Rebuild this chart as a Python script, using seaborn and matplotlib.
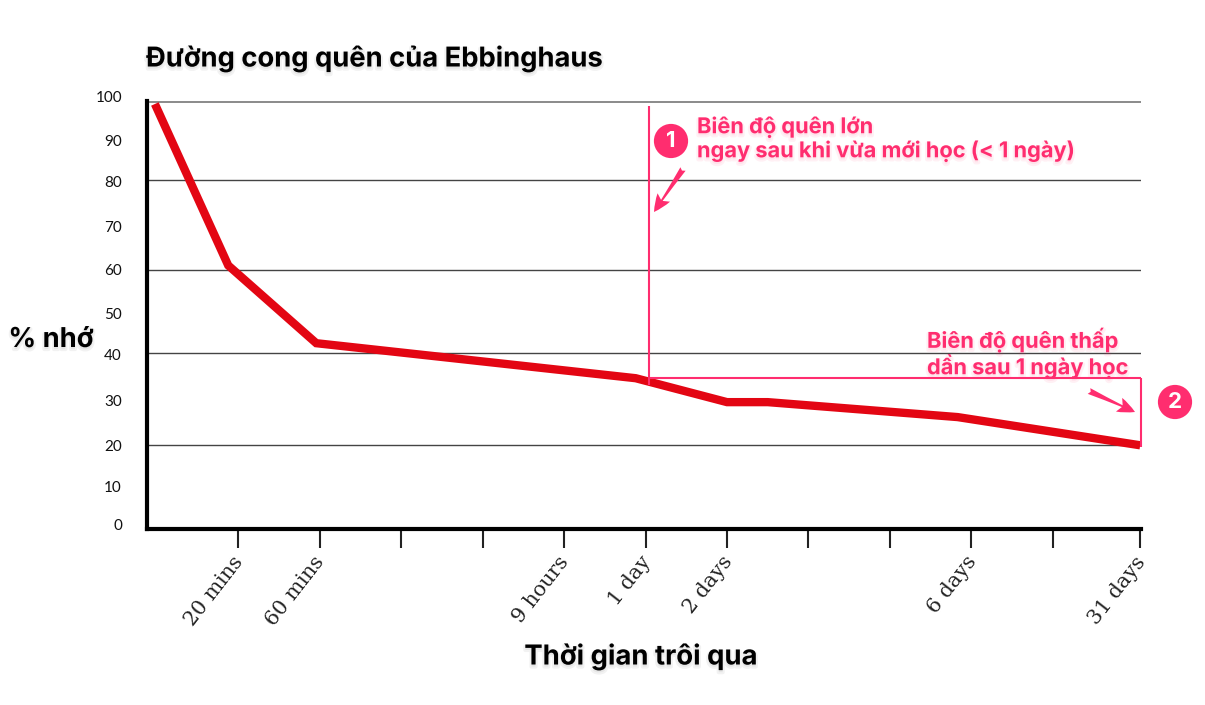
import pandas as pd
import matplotlib
matplotlib.use('Agg')
import matplotlib.pyplot as plt
import matplotlib.patheffects as pe
from matplotlib.transforms import Affine2D
import seaborn as sns

# du lieu doc tu hinh
curve_x = [-0.02, 0.88, 1.96, 5.88, 7.0, 7.5, 9.83, 12.07]
curve_y = [99.5, 61.7, 43.5, 35.3, 29.7, 29.7, 26.2, 19.6]
grid_levels = [81.6, 60.7, 41.2, 19.7]
y_ticks = [0, 9.1, 18.7, 29.2, 40, 49.5, 59.8, 69.9, 80.4, 90, 100.2]
y_labels = ['0', '10', '20', '30', '40', '50', '60', '70', '80', '90', '100']
x_ticks = [1, 2, 3, 4, 5, 6, 7, 8, 9, 10, 11, 12.07]
x_labels = ['20 mins', '60 mins', '', '', '9 hours', '1 day', '2 days', '', '', '6 days', '', '31 days']
split_x = 6.04
split_y = 35.3

RED = '#E30613'
PINK = '#FF2D6F'
W, H = 1205, 705


def at(px, py):
    # toa do pixel cua hinh -> toa do figure
    return px / W, 1 - py / H


sns.set_theme(style='white')
plt.rcParams['font.family'] = ['Inter', 'DejaVu Sans']

df = pd.DataFrame({'x': curve_x, 'y': curve_y})

fig = plt.figure(figsize=(W / 100, H / 100), dpi=100)
ax = fig.add_axes([147 / W, 1 - 529 / H, (1141 - 147) / W, (529 - 101) / H])

ax.hlines(grid_levels, -0.117, 12.08, colors='#444444', linewidth=1.0, zorder=1)
ax.hlines(100, -0.117, 12.08, colors='#777777', linewidth=1.2, zorder=1)

sns.lineplot(data=df, x='x', y='y', ax=ax, color=RED, linewidth=6.0, sort=False,
             solid_joinstyle='miter', solid_capstyle='butt', zorder=3, clip_on=False)

ax.set_xlim(-0.117, 12.08)
ax.set_ylim(0, 100)
ax.set_xlabel('')
ax.set_ylabel('')

for side in ['top', 'right']:
    ax.spines[side].set_visible(False)
ax.spines['left'].set_linewidth(3)
ax.spines['left'].set_color('black')
ax.spines['bottom'].set_linewidth(3)
ax.spines['bottom'].set_color('black')

ax.set_yticks(y_ticks)
ax.set_yticklabels(y_labels, fontsize=11, family=['Lato', 'DejaVu Sans'], color='#111111')
ax.tick_params(axis='y', length=0, pad=18)
for lab in ax.get_yticklabels():
    lab.set_transform(lab.get_transform() + Affine2D().translate(0, 4))

ax.set_xticks(x_ticks)
ax.set_xticklabels(x_labels, rotation=52, ha='right', rotation_mode='anchor',
                   fontsize=14.8, family=['DejaVu Serif'], color='#222222')
ax.tick_params(axis='x', length=14, width=1.5, color='#222222', pad=3, bottom=True)
for lab in ax.get_xticklabels():
    lab.set_transform(lab.get_transform() + Affine2D().translate(-6, 0))

# duong danh dau bien do
ax.vlines(split_x, split_y - 1.5, 99, colors=PINK, linewidth=1.5, zorder=4, clip_on=False)
ax.hlines(split_y, split_x, 12.08, colors=PINK, linewidth=1.5, zorder=4, clip_on=False)
ax.vlines(12.08, curve_y[-1] - 0.5, split_y, colors=PINK, linewidth=1.5, zorder=4, clip_on=False)

shadow = [pe.Stroke(linewidth=3, foreground='black', alpha=0.05, offset=(0, -1.5)), pe.Normal()]
shadow_pink = [pe.Stroke(linewidth=3, foreground=PINK, alpha=0.07, offset=(0, -1.5)), pe.Normal()]

fig.text(*at(146, 59), 'Đường cong quên của Ebbinghaus', fontsize=19.7, fontweight='bold',
         color='black', va='center', ha='left', path_effects=shadow)
fig.text(*at(51, 340), '% nhớ', fontsize=19.7, fontweight='bold', color='black',
         va='center', ha='center', path_effects=shadow)
fig.text(*at(641, 657), 'Thời gian trôi qua', fontsize=19.8, fontweight='bold', color='black',
         va='center', ha='center', path_effects=shadow)

fig.text(*at(697, 138.5), 'Biên độ quên lớn\nngay sau khi vừa mới học (< 1 ngày)', fontsize=15.7,
         fontweight='bold', color=PINK, va='center', ha='left', linespacing=1.18, path_effects=shadow_pink)
fig.text(*at(927, 353), 'Biên độ quên thấp\ndần sau 1 ngày học', fontsize=15.7,
         fontweight='bold', color=PINK, va='center', ha='left', linespacing=1.12, path_effects=shadow_pink)

for num, cx, cy in [('1', 671, 141), ('2', 1175, 402)]:
    fig.text(*at(cx, cy), num, fontsize=16, fontweight='bold', color='white', ha='center', va='center',
             bbox=dict(boxstyle='circle,pad=0.32', fc=PINK, ec='none'), zorder=6)

for start, end in [((683, 169), (654, 212)), ((1089, 391), (1135, 412))]:
    ax.annotate('', xy=at(*end), xytext=at(*start), xycoords='figure fraction',
                textcoords='figure fraction', annotation_clip=False,
                arrowprops=dict(arrowstyle='fancy,head_length=0.7,head_width=0.6,tail_width=0.25',
                                color=PINK, shrinkA=0, shrinkB=0, mutation_scale=18, lw=0))

fig.savefig('out.png', dpi=100)
